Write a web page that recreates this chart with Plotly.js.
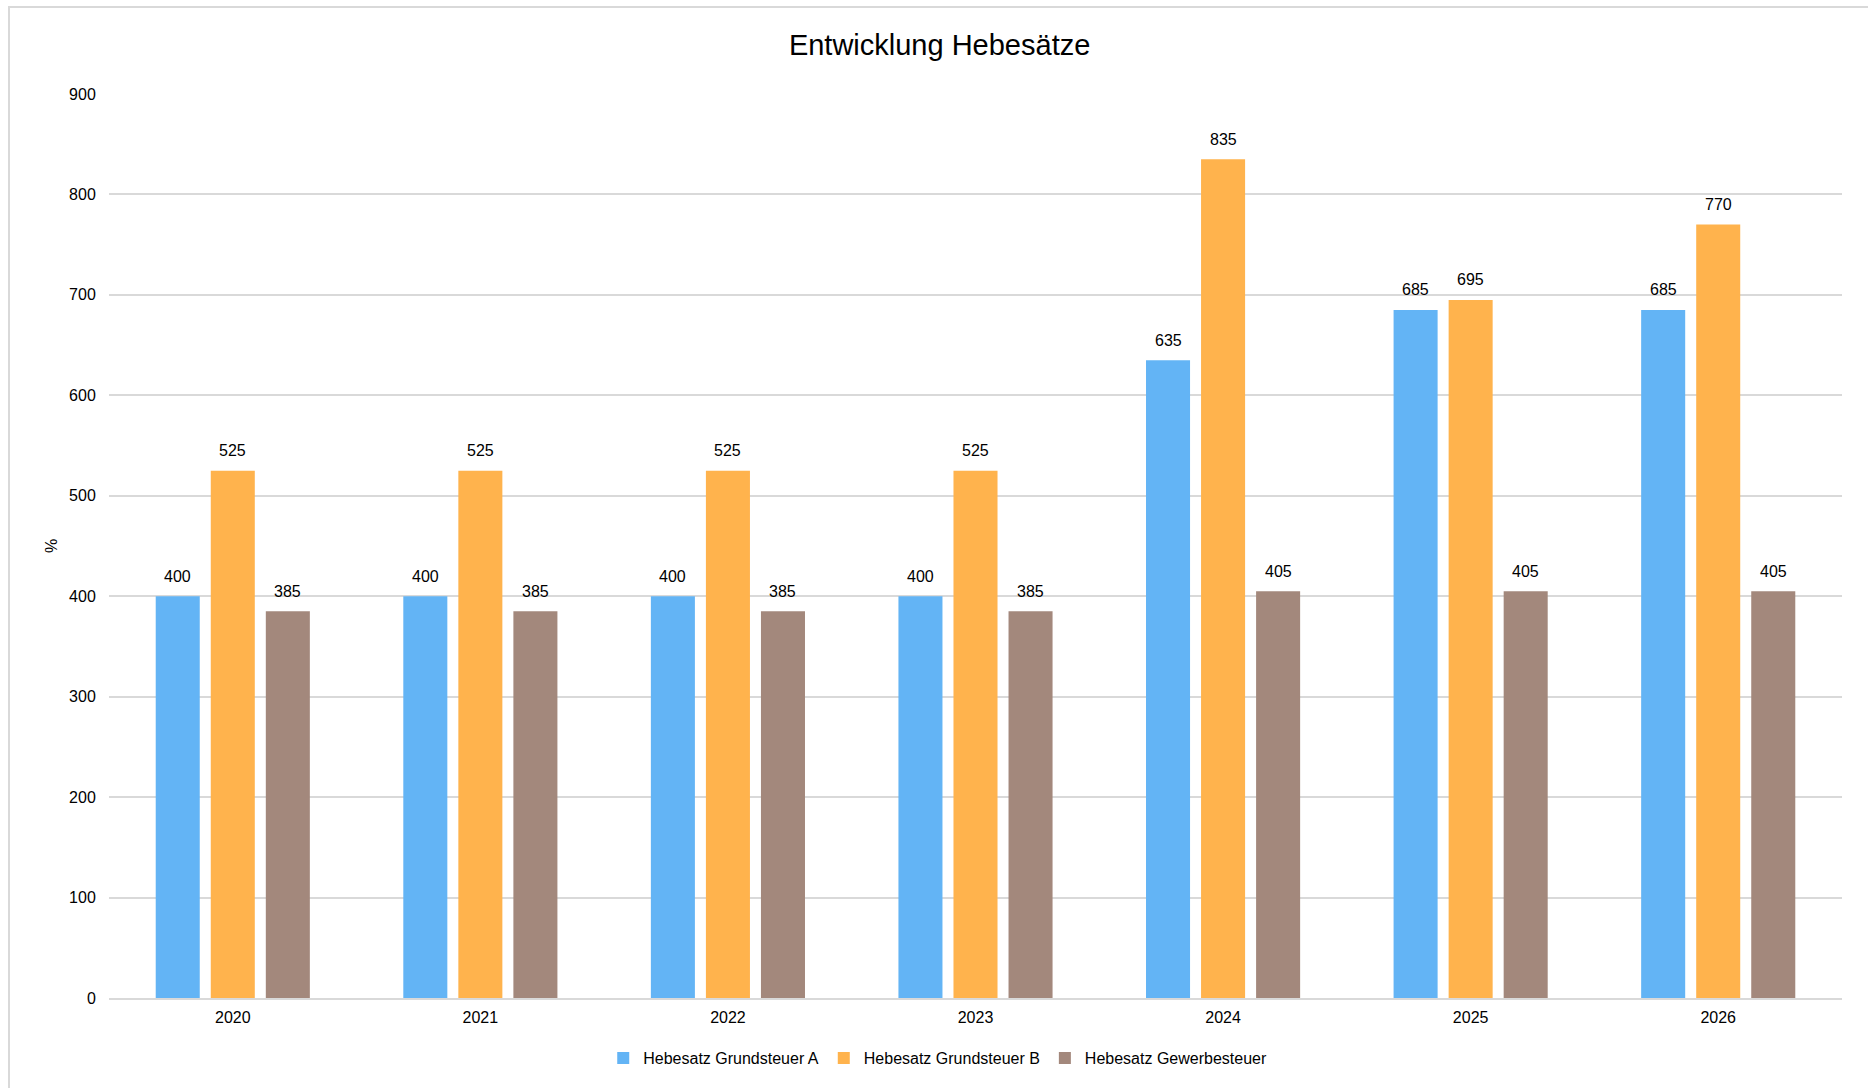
<!DOCTYPE html>
<html>
<head>
<meta charset="utf-8">
<script src="https://cdn.plot.ly/plotly-3.0.1.min.js"></script>
<style>
  html, body { margin: 0; padding: 0; background: #fff; }
  #wrap { position: relative; width: 1868px; height: 1088px; }
  #chart { position: absolute; left: 0; top: 0; width: 1868px; height: 1088px; }
  #frameL { position: absolute; left: 8px; top: 6px; width: 2px; height: 1082px; background: #d9d9d9; }
  #frameT { position: absolute; left: 8px; top: 6px; width: 1860px; height: 2px; background: #d9d9d9; }
</style>
</head>
<body>
<div id="wrap">
  <div id="chart"></div>
  <div id="frameL"></div>
  <div id="frameT"></div>
</div>
<script>
const years = ['2020', '2021', '2022', '2023', '2024', '2025', '2026'];
const grundsteuerA = [400, 400, 400, 400, 635, 685, 685];
const grundsteuerB = [525, 525, 525, 525, 835, 695, 770];
const gewerbesteuer = [385, 385, 385, 385, 405, 405, 405];
const seriesNames = ['Hebesatz Grundsteuer A', 'Hebesatz Grundsteuer B', 'Hebesatz Gewerbesteuer'];
const yTicks = [0, 100, 200, 300, 400, 500, 600, 700, 800, 900];

const colors = ['#63b4f5', '#ffb34d', '#a3887c'];
const font = 'Liberation Sans, Arial, sans-serif';
const allSeries = [grundsteuerA, grundsteuerB, gewerbesteuer];

function mk(vals, i) {
  return {
    type: 'bar', x: years, y: vals, name: seriesNames[i],
    marker: { color: colors[i] },
    hoverinfo: 'x+y+name'
  };
}

const data = allSeries.map(mk);

// data labels as annotations (category index on x), offset per series within the group
const slotPx = 55;
const annotations = [];
allSeries.forEach((vals, i) => {
  vals.forEach((v, j) => {
    annotations.push({
      x: j, y: v, xref: 'x', yref: 'y', text: String(v), showarrow: false,
      xshift: (i - 1) * slotPx, yshift: 20, yanchor: 'middle', xanchor: 'center',
      font: { family: font, size: 16, color: '#000' }
    });
  });
});

const layout = {
  width: 1868, height: 1088,
  margin: { l: 109, r: 26, t: 94, b: 90 },
  paper_bgcolor: '#fff', plot_bgcolor: '#fff',
  font: { family: font, size: 16, color: '#000' },
  title: { text: 'Entwicklung Hebesätze', font: { family: font, size: 29, color: '#000' },
           x: 0.503, xref: 'container', xanchor: 'center', y: 1 - 45/1088, yref: 'container', yanchor: 'middle' },
  barmode: 'group', bargap: 0.333, bargroupgap: 0.2,
  xaxis: { type: 'category', categoryorder: 'array', categoryarray: years, range: [-0.5, years.length - 0.5],
           tickfont: { family: font, size: 16, color: '#000' },
           showgrid: false, showline: true, linecolor: '#d9d9d9', linewidth: 2,
           ticks: 'outside', ticklen: 4, tickcolor: 'rgba(0,0,0,0)', automargin: false },
  yaxis: { range: [0, 900], tickvals: yTicks, ticktext: yTicks.map(String),
           tickfont: { family: font, size: 16, color: '#000' },
           gridcolor: '#d9d9d9', gridwidth: 2, zeroline: false, showline: false,
           ticks: 'outside', ticklen: 9, tickcolor: 'rgba(0,0,0,0)',
           title: { text: '%', font: { family: font, size: 16, color: '#000' }, standoff: 7 }, automargin: false },
  annotations: annotations,
  legend: { orientation: 'h', xref: 'container', yref: 'container', x: 0.502, xanchor: 'center',
            y: 1 - 1058/1088, yanchor: 'middle', font: { family: font, size: 16, color: '#000' },
            itemwidth: 30, tracegroupgap: 0 },
  showlegend: true
};

Plotly.newPlot('chart', data, layout, { displayModeBar: false, staticPlot: true });
</script>
</body>
</html>
